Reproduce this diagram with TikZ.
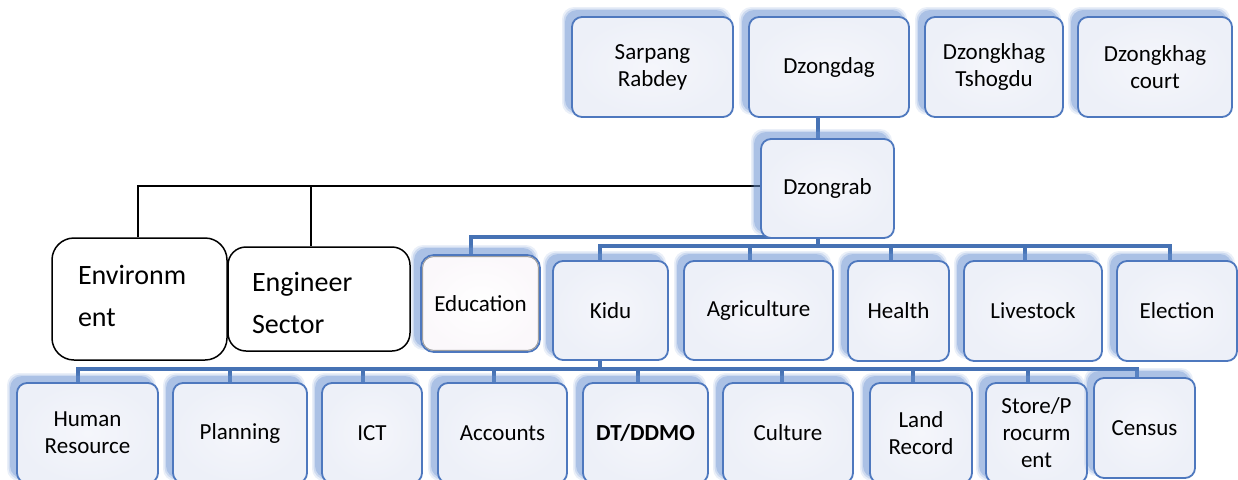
\documentclass[tikz,border=0pt]{standalone}
\usepackage{fontspec}
\setmainfont{Carlito}
\definecolor{linkblue}{RGB}{70,114,180}
\definecolor{edgeblue}{RGB}{78,120,190}
\definecolor{glowblue}{RGB}{104,144,208}
\definecolor{panel}{RGB}{237,240,248}
\definecolor{panelhi}{RGB}{245,246,251}
\pgfdeclarelayer{links}
\pgfsetlayers{links,main}

\tikzset{
  unitbox/.style={draw=edgeblue, line width=1.8pt, rounded corners=10pt,
    inner color=panelhi, outer color=panel, align=center,
    font=\fontsize{23}{27}\selectfont, text=black, inner sep=2pt},
  educbox/.style={unitbox, inner color=white, outer color={rgb,255:red,251;green,248;blue,251}, rounded corners=13pt},
  sectorbox/.style={draw=black, line width=1.5pt, fill=white, align=left,
    font=\fontsize{28}{42}\selectfont, text=black, inner ysep=2pt},
  bus/.style={draw=linkblue, line width=4pt},
  thinlink/.style={draw=black, line width=1.4pt},
}

% shift a line of text without changing its box
\newcommand\nudge[2]{\raisebox{#1}[\height][\depth]{#2}}

% office unit: soft blue glow up-left, shaded panel in front
% #1 style, #2 name, #3 left, #4 top, #5 right, #6 bottom, #7 text
\newcommand\glowbox[7][unitbox]{%
  \foreach \g/\o in {4/0.14,2.5/0.22,1/0.34} {
    \fill[glowblue, opacity=\o, rounded corners=12pt]
      ({#3-6-\g},{#4-6-\g}) rectangle ({#5-6+\g},{#6-6+\g});
  }
  \node[#1, minimum width={(#5-#3)*1pt}, minimum height={(#6-#4)*1pt}]
    (#2) at ({(#3+#5)/2},{(#4+#6)/2}) {#7};
}

\begin{document}
\begin{tikzpicture}[x=1pt,y=-1pt]
\useasboundingbox (0,0) rectangle (1238,479);

% top row
\glowbox{sarpang}{572}{17}{733}{117}{Sarpang\\Rabdey}
\glowbox{dzongdag}{749}{17}{909}{117}{Dzongdag}
\glowbox{tshogdu}{925}{17}{1063}{117}{Dzongkhag\\Tshogdu}
\glowbox{court}{1078}{17}{1232}{117}{Dzongkhag\\court}

% Dzongrab
\glowbox{dzongrab}{761}{139}{894}{238}{Dzongrab}

% sectors on the left
\node[sectorbox, rounded corners=22pt, minimum height=122pt,
      inner xsep=26pt, text width=123pt] (env) at (139.5,299)
      {\nudge{3pt}{Environm}\\\nudge{3pt}{ent}};
\node[sectorbox, rounded corners=18pt, minimum height=104pt,
      inner xsep=24pt, text width=134pt] (eng) at (319,299)
      {\nudge{-4pt}{Engineer}\\\nudge{-4pt}{Sector}};

% second row
\glowbox[educbox]{education}{421}{255}{540}{352}{Education}
\draw[gray!75, line width=1pt, rounded corners=11pt]
  ([shift={(2.5,2.5)}]education.north west) rectangle ([shift={(-2.5,-2.5)}]education.south east);
\glowbox{kidu}{553}{261}{668}{360}{Kidu}
\glowbox{agri}{684}{261}{833}{360}{Agriculture}
\glowbox{health}{848}{261}{949}{361}{Health}
\glowbox{livestock}{964}{261}{1102}{361}{Livestock}
\glowbox{election}{1117}{261}{1237}{361}{Election}

% third row
\glowbox{hr}{17}{383}{158}{483}{Human\\Resource}
\glowbox{planning}{173}{383}{307}{483}{Planning}
\glowbox{ict}{322}{383}{422}{483}{ICT}
\glowbox{accounts}{438}{383}{567}{483}{Accounts}
\glowbox{dtddmo}{583}{383}{708}{483}{\textbf{DT/DDMO}}
\glowbox{culture}{723}{383}{853}{483}{Culture}
\glowbox{land}{870}{383}{972}{483}{Land\\Record}
\glowbox{store}{986}{383}{1087}{483}{Store/P\\rocurm\\ent}
\glowbox{census}{1094}{378}{1195}{478}{Census}

% junction points of the connectors
\coordinate (t0) at (818,128);
\coordinate (hb) at (138,186);
\coordinate (he) at (311,186);
\coordinate (e1) at (471,237);
\coordinate (e2) at (818,237);
\coordinate (k0) at (818,246);
\coordinate (k1) at (600,246);
\coordinate (k2) at (750,246);
\coordinate (k3) at (891,246);
\coordinate (k4) at (1025,246);
\coordinate (k5) at (1170,246);
\coordinate (d0) at (600,369);
\coordinate (d1) at (78,369);
\coordinate (d2) at (230,369);
\coordinate (d3) at (363,369);
\coordinate (d4) at (494,369);
\coordinate (d5) at (638,369);
\coordinate (d6) at (782,369);
\coordinate (d7) at (913,369);
\coordinate (d8) at (1028,369);
\coordinate (d9) at (1137,369);

\begin{pgfonlayer}{links}
  \draw[bus] (dzongdag.south -| t0) -- (dzongrab.north -| t0);
  % black links to the sectors
  \draw[thinlink] (env.north -| hb) -- (hb) -- (dzongrab.west |- hb);
  \draw[thinlink] (eng.north -| he) -- (he);
  % second row
  \draw[bus] (education.north -| e1) -- (e1) -- (e2);
  \draw[bus] (dzongrab.south -| k0) -- (k0);
  \draw[bus] (kidu.north -| k1) -- (k1) -- (k5) -- (election.north -| k5);
  \draw[bus] (k2) -- (agri.north -| k2);
  \draw[bus] (k3) -- (health.north -| k3);
  \draw[bus] (k4) -- (livestock.north -| k4);
  % third row
  \draw[bus] (kidu.south -| d0) -- (d0);
  \draw[bus] (hr.north -| d1) -- (d1) -- (d9) -- (census.north -| d9);
  \draw[bus] (d2) -- (planning.north -| d2);
  \draw[bus] (d3) -- (ict.north -| d3);
  \draw[bus] (d4) -- (accounts.north -| d4);
  \draw[bus] (d5) -- (dtddmo.north -| d5);
  \draw[bus] (d6) -- (culture.north -| d6);
  \draw[bus] (d7) -- (land.north -| d7);
  \draw[bus] (d8) -- (store.north -| d8);
\end{pgfonlayer}
\end{tikzpicture}
\end{document}
